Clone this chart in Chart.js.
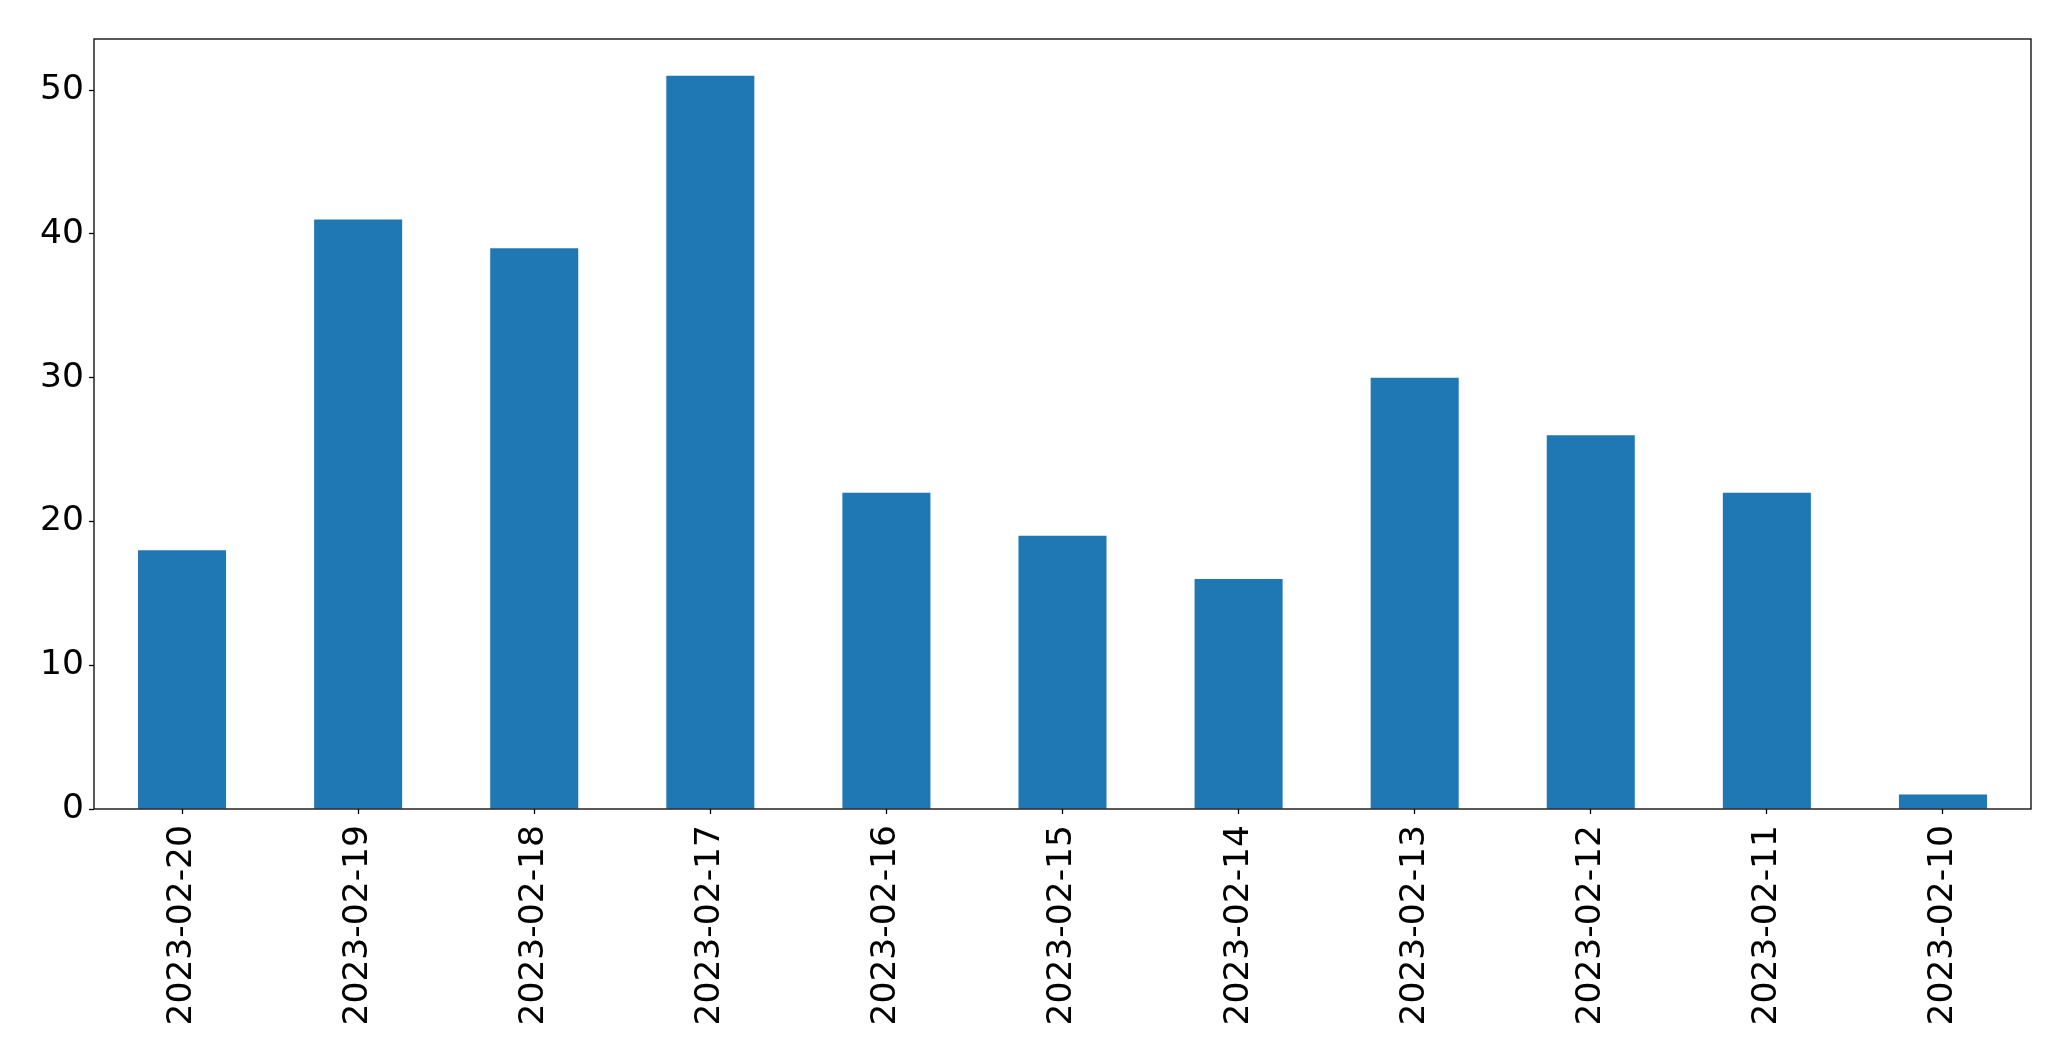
<!DOCTYPE html>
<html lang="en">
  <head>
    <meta charset="UTF-8" />
    <title>Daily counts</title>
    <script src="https://cdn.jsdelivr.net/npm/chart.js"></script>
    <style>
      html,
      body {
        margin: 0;
        padding: 0;
        background: #ffffff;
      }
      .chart-container {
        position: relative;
        width: 2071px;
        height: 1061px;
      }
    </style>
  </head>
  <body>
    <div class="chart-container">
      <canvas id="barChart"></canvas>
    </div>

    <script>
      const dates = [
        "2023-02-20",
        "2023-02-19",
        "2023-02-18",
        "2023-02-17",
        "2023-02-16",
        "2023-02-15",
        "2023-02-14",
        "2023-02-13",
        "2023-02-12",
        "2023-02-11",
        "2023-02-10",
      ];
      const counts = [18, 41, 39, 51, 22, 19, 16, 30, 26, 22, 1];
      const yTicks = [0, 10, 20, 30, 40, 50];

      const font = { family: "'DejaVu Sans', sans-serif", size: 34.5 };

      // black frame around the plot area, like matplotlib's spines
      const frame = {
        id: "frame",
        afterDraw(chart) {
          const { ctx, chartArea: a } = chart;
          ctx.save();
          ctx.strokeStyle = "#000000";
          ctx.lineWidth = 1.3;
          ctx.strokeRect(a.left, a.top, a.right - a.left, a.bottom - a.top);
          ctx.restore();
        },
      };

      const ctx = document.getElementById("barChart").getContext("2d");
      new Chart(ctx, {
        type: "bar",
        data: {
          labels: dates,
          datasets: [
            {
              data: counts,
              backgroundColor: "#1f77b4",
              categoryPercentage: 1.0,
              barPercentage: 0.5,
            },
          ],
        },
        options: {
          responsive: true,
          maintainAspectRatio: false,
          animation: false,
          layout: { padding: { top: 39, right: 40, left: 0, bottom: 0 } },
          plugins: {
            legend: { display: false },
            tooltip: { enabled: false },
          },
          scales: {
            x: {
              offset: true,
              grid: {
                display: true,
                offset: false,
                drawOnChartArea: false,
                tickLength: 5,
                tickColor: "#000000",
                tickWidth: 1.3,
              },
              border: { display: false },
              ticks: {
                color: "#000000",
                font: font,
                minRotation: 90,
                maxRotation: 90,
                autoSkip: false,
                padding: 11,
              },
              afterFit(scale) {
                scale.height = 252;
              },
            },
            y: {
              min: 0,
              max: 53.55,
              grid: {
                display: true,
                drawOnChartArea: false,
                tickLength: 5,
                tickColor: "#000000",
                tickWidth: 1.3,
              },
              border: { display: false },
              afterBuildTicks(scale) {
                scale.ticks = yTicks.map((v) => ({ value: v }));
              },
              ticks: {
                color: "#000000",
                font: font,
                padding: 5,
              },
              afterFit(scale) {
                scale.width = 94;
              },
            },
          },
        },
        plugins: [frame],
      });
    </script>
  </body>
</html>
